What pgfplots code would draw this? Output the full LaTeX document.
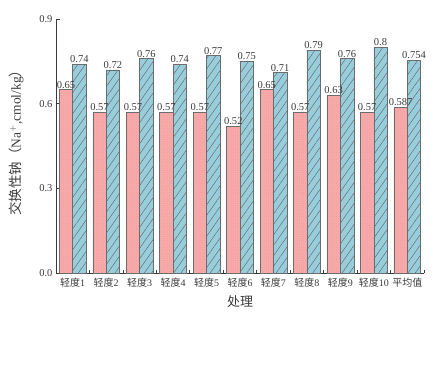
\documentclass[border=0pt]{standalone}
\usepackage{fontspec}
\setmainfont{Liberation Serif}
\newfontfamily\cjk{Noto Sans CJK SC}
\usepackage{pgfplots}
\pgfplotsset{compat=1.18}
\usepackage{pgfplotstable}
\usetikzlibrary{patterns.meta}

\definecolor{pinkf}{HTML}{F8A9AA}
\definecolor{pinkd}{HTML}{E08E90}
\definecolor{bluef}{HTML}{98CEDC}
\definecolor{txt}{HTML}{3A3A3A}
\newcommand\qd[1]{{\cjk 轻度}#1}

\pgfplotstableread{
x y lab
0 0.65 0.65
1 0.57 0.57
2 0.57 0.57
3 0.57 0.57
4 0.57 0.57
5 0.52 0.52
6 0.65 0.65
7 0.57 0.57
8 0.63 0.63
9 0.57 0.57
10 0.587 0.587
}\pinktab

\pgfplotstableread{
x y lab
0 0.74 0.74
1 0.72 0.72
2 0.76 0.76
3 0.74 0.74
4 0.77 0.77
5 0.75 0.75
6 0.71 0.71
7 0.79 0.79
8 0.76 0.76
9 0.8 0.8
10 0.754 0.754
}\bluetab

\begin{document}
\begin{tikzpicture}
\path[use as bounding box] (-56pt,-91pt) rectangle (387pt,273pt);
\begin{axis}[
  at={(0,0)}, anchor=south west,
  scale only axis, width=368pt, height=254pt,
  ybar,
  bar width=0.4,
  xmin=-0.5, xmax=10.5,
  ymin=0, ymax=0.9,
  axis x line*=bottom, axis y line*=left,
  axis line style={draw=txt, line width=0.8pt},
  xtick={0,...,10},
  xticklabels={\qd1,\qd2,\qd3,\qd4,\qd5,\qd6,\qd7,\qd8,\qd9,\qd{10},{\cjk 平均值}},
  major x tick style={draw=none},
  minor xtick={-0.5,0.5,...,10.5},
  minor tick length=3pt,
  minor x tick style={draw=txt, line width=0.8pt},
  ytick={0,0.3,0.6,0.9},
  major tick length=4pt,
  tick align=inside,
  y tick style={draw=txt, line width=0.8pt},
  yticklabel style={/pgf/number format/.cd, fixed, fixed zerofill, precision=1, assume math mode=true},
  ticklabel style={font=\fontsize{10.5}{11}\selectfont, text=txt},
  xticklabel style={font=\fontsize{10}{11}\selectfont, yshift=-1.5pt},
  xlabel={{\cjk 处理}},
  ylabel={{\cjk 交换性钠（}Na$^{+}$,cmol/kg{\cjk ）}},
  xlabel style={at={(axis description cs:0.5,-0.114)}, anchor=center, font=\fontsize{13}{14}\selectfont, text=txt},
  ylabel style={at={(axis description cs:-0.108,0.525)}, anchor=center, rotate=0, font=\fontsize{13.5}{14}\selectfont, text=txt},
  nodes near coords,
  point meta=explicit symbolic,
  every node near coord/.append style={font=\fontsize{10.5}{11}\selectfont, text=txt, inner sep=1pt},
  clip=false,
]
\addplot+[bar shift=-0.2, draw=gray!85!black, line width=0.5pt, fill=pinkf,
  postaction={pattern={Dots[distance=2.2pt,radius=0.3pt]}, pattern color=pinkd}]
  table[x=x, y=y, meta=lab] {\pinktab};
\addplot+[bar shift=0.2, draw=gray!85!black, line width=0.5pt, fill=bluef,
  postaction={pattern={Lines[angle=55,distance=6pt,line width=0.45pt]}, pattern color=gray!80!black}]
  table[x=x, y=y, meta=lab] {\bluetab};
\end{axis}
\end{tikzpicture}
\end{document}
